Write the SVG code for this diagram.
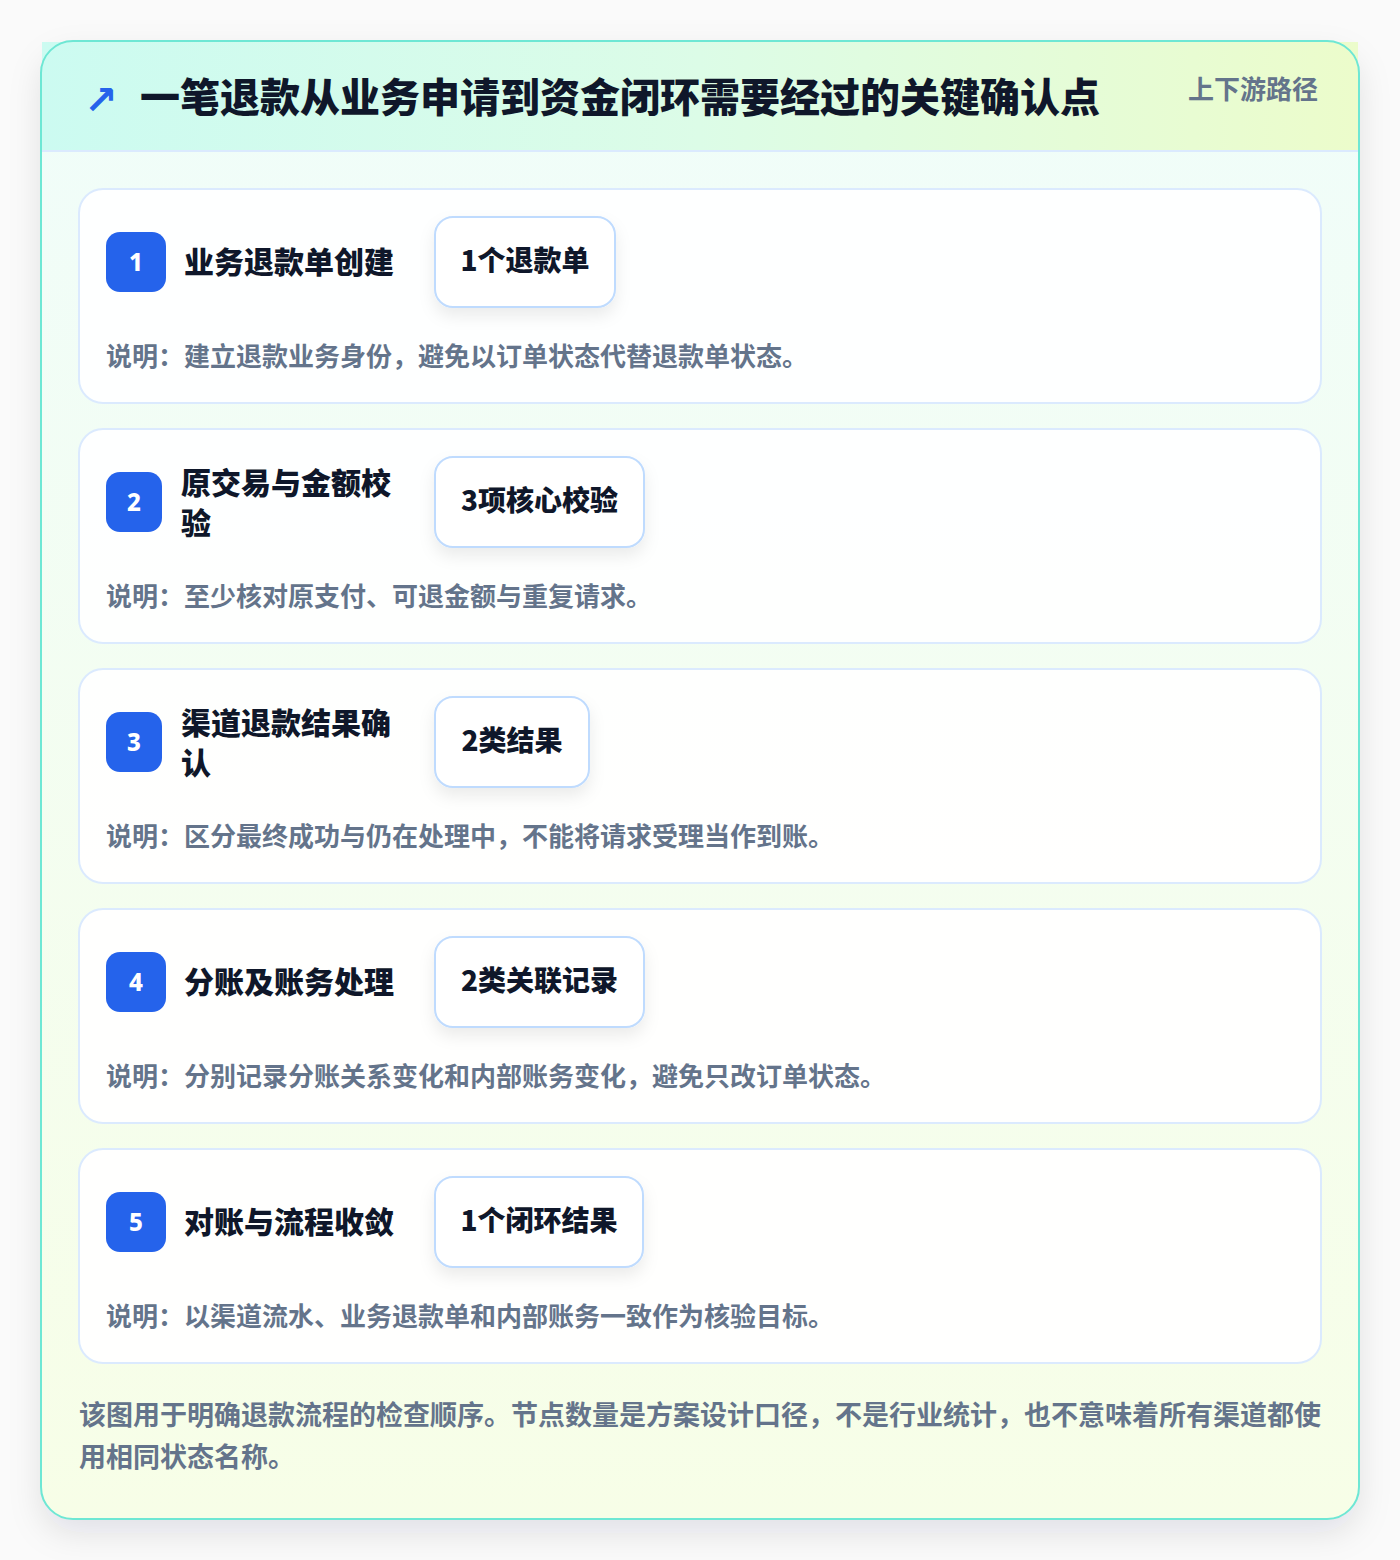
<svg xmlns="http://www.w3.org/2000/svg" width="1400" height="1560" viewBox="0 0 1400 1560">
<defs>
<linearGradient id="hdr" x1="0" y1="0" x2="1" y2="0">
<stop offset="0" stop-color="#ccfbf1"/>
<stop offset="0.5" stop-color="#dcfce7"/>
<stop offset="1" stop-color="#ecfccb"/>
</linearGradient>
<linearGradient id="body" x1="0" y1="0" x2="0" y2="1">
<stop offset="0" stop-color="#f0fdfa"/>
<stop offset="1" stop-color="#f7fee7"/>
</linearGradient>
<filter id="outerShadow" x="-10%" y="-10%" width="120%" height="120%">
<feDropShadow dx="0" dy="14" stdDeviation="16" flood-color="#0f172a" flood-opacity="0.10"/>
</filter>
<filter id="pillShadow" x="-20%" y="-20%" width="140%" height="160%">
<feDropShadow dx="0" dy="8" stdDeviation="8" flood-color="#0f172a" flood-opacity="0.08"/>
</filter>
<style>
.cjk{font-family:"Noto Sans CJK SC","Noto Sans",sans-serif}
.title{font-size:40px;font-weight:900;fill:#0f172a}
.sub{font-size:26px;font-weight:700;fill:#64748b}
.card{fill:#ffffff;fill-opacity:0.92;stroke:#dbeafe;stroke-width:2}
.badge{fill:#2563eb}
.num{font-family:"Noto Sans","DejaVu Sans",sans-serif;font-size:24px;font-weight:800;fill:#ffffff}
.ntitle{font-size:30px;font-weight:800;fill:#0f172a}
.pill{fill:#ffffff;stroke:#bfdbfe;stroke-width:2}
.ptext{font-size:28px;font-weight:800;fill:#0f172a}
.desc{font-size:26px;font-weight:700;fill:#64748b}
.foot{font-size:27px;font-weight:700;fill:#64748b}
</style>
</defs>
<rect x="0" y="0" width="1400" height="1560" fill="#fafafa"/>
<g id="frame">
<rect x="41" y="41" width="1318" height="1478" rx="32" fill="url(#body)" filter="url(#outerShadow)"/>
<rect x="42" y="42" width="1316" height="109" fill="url(#hdr)"/>
<line x1="42" y1="151" x2="1358" y2="151" stroke="#dbeafe" stroke-width="2"/>
<rect x="41" y="41" width="1318" height="1478" rx="32" fill="none" stroke="#6ee7d4" stroke-width="2"/>
</g>
<g id="header">
<text x="84" y="114" font-family="DejaVu Sans,sans-serif" font-size="40" font-weight="700" fill="#2563eb">↗</text>
<text x="140" y="112" class="cjk title">一笔退款从业务申请到资金闭环需要经过的关键确认点</text>
<text x="1318" y="99" class="cjk sub" text-anchor="end">上下游路径</text>
</g>
<g id="connectors"></g>
<g id="node1">
<rect class="card" x="79" y="189" width="1242" height="214" rx="24"/>
<rect class="badge" x="106" y="232" width="60" height="60" rx="14"/>
<text class="num" x="136" y="271" text-anchor="middle">1</text>
<text class="cjk ntitle" x="184" y="273">业务退款单创建</text>
<rect class="pill" x="435" y="217" width="180" height="90" rx="18" filter="url(#pillShadow)"/>
<text class="cjk ptext" x="525" y="271" text-anchor="middle">1个退款单</text>
<text class="cjk desc" x="106" y="366">说明：建立退款业务身份，避免以订单状态代替退款单状态。</text>
</g>
<g id="node2">
<rect class="card" x="79" y="429" width="1242" height="214" rx="24"/>
<rect class="badge" x="106" y="472" width="56" height="60" rx="14"/>
<text class="num" x="134" y="511" text-anchor="middle">2</text>
<text class="cjk ntitle" x="181" y="494">原交易与金额校</text>
<text class="cjk ntitle" x="181" y="534">验</text>
<rect class="pill" x="435" y="457" width="209" height="90" rx="18" filter="url(#pillShadow)"/>
<text class="cjk ptext" x="539.5" y="511" text-anchor="middle">3项核心校验</text>
<text class="cjk desc" x="106" y="606">说明：至少核对原支付、可退金额与重复请求。</text>
</g>
<g id="node3">
<rect class="card" x="79" y="669" width="1242" height="214" rx="24"/>
<rect class="badge" x="106" y="712" width="56" height="60" rx="14"/>
<text class="num" x="134" y="751" text-anchor="middle">3</text>
<text class="cjk ntitle" x="181" y="734">渠道退款结果确</text>
<text class="cjk ntitle" x="181" y="774">认</text>
<rect class="pill" x="435" y="697" width="154" height="90" rx="18" filter="url(#pillShadow)"/>
<text class="cjk ptext" x="512" y="751" text-anchor="middle">2类结果</text>
<text class="cjk desc" x="106" y="846">说明：区分最终成功与仍在处理中，不能将请求受理当作到账。</text>
</g>
<g id="node4">
<rect class="card" x="79" y="909" width="1242" height="214" rx="24"/>
<rect class="badge" x="106" y="952" width="60" height="60" rx="14"/>
<text class="num" x="136" y="991" text-anchor="middle">4</text>
<text class="cjk ntitle" x="184" y="993">分账及账务处理</text>
<rect class="pill" x="435" y="937" width="209" height="90" rx="18" filter="url(#pillShadow)"/>
<text class="cjk ptext" x="539.5" y="991" text-anchor="middle">2类关联记录</text>
<text class="cjk desc" x="106" y="1086">说明：分别记录分账关系变化和内部账务变化，避免只改订单状态。</text>
</g>
<g id="node5">
<rect class="card" x="79" y="1149" width="1242" height="214" rx="24"/>
<rect class="badge" x="106" y="1192" width="60" height="60" rx="14"/>
<text class="num" x="136" y="1231" text-anchor="middle">5</text>
<text class="cjk ntitle" x="184" y="1233">对账与流程收敛</text>
<rect class="pill" x="435" y="1177" width="208" height="90" rx="18" filter="url(#pillShadow)"/>
<text class="cjk ptext" x="539" y="1231" text-anchor="middle">1个闭环结果</text>
<text class="cjk desc" x="106" y="1326">说明：以渠道流水、业务退款单和内部账务一致作为核验目标。</text>
</g>
<g id="footnote">
<text class="cjk foot" x="79" y="1425">该图用于明确退款流程的检查顺序。节点数量是方案设计口径，不是行业统计，也不意味着所有渠道都使</text>
<text class="cjk foot" x="79" y="1467">用相同状态名称。</text>
</g>
</svg>
